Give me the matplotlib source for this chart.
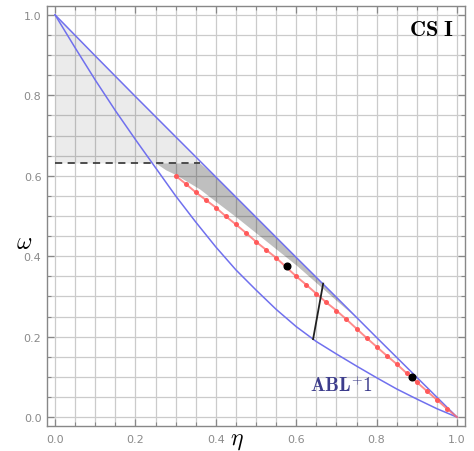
import matplotlib
matplotlib.use("Agg")
import matplotlib.pyplot as plt
import numpy as np

plt.rcParams['mathtext.fontset'] = 'cm'

# upper boundary curve (almost the diagonal)
upper_eta = [0.0, 0.1, 0.2, 0.3, 0.4, 0.5, 0.6, 0.7, 0.8, 0.9, 1.0]
upper_omega = [1.0, 0.898, 0.797, 0.697, 0.597, 0.497, 0.397, 0.298, 0.198, 0.099, 0.0]

# lower boundary curve
lower_eta = [0.0, 0.05, 0.1, 0.15, 0.2, 0.25, 0.3, 0.35, 0.4, 0.45, 0.5,
             0.55, 0.6, 0.65, 0.7, 0.75, 0.8, 0.85, 0.9, 0.95, 1.0]
lower_omega = [1.0, 0.918, 0.838, 0.762, 0.69, 0.62, 0.55, 0.485, 0.423, 0.366, 0.316,
               0.268, 0.225, 0.188, 0.157, 0.127, 0.098, 0.070, 0.045, 0.021, 0.0]

# red dotted series
red_eta = [0.3, 0.325, 0.35, 0.375, 0.4, 0.425, 0.45, 0.475, 0.5, 0.525, 0.55, 0.575,
           0.6, 0.625, 0.65, 0.675, 0.7, 0.725, 0.75, 0.775, 0.8, 0.825, 0.85, 0.875,
           0.9, 0.925, 0.95, 0.975, 1.0]
red_omega = [0.600, 0.580, 0.559, 0.540, 0.521, 0.499, 0.479, 0.458, 0.436, 0.416, 0.396, 0.373,
             0.350, 0.329, 0.307, 0.285, 0.265, 0.243, 0.220, 0.197, 0.175, 0.153, 0.132, 0.109,
             0.087, 0.065, 0.043, 0.021, 0.0]

# black points
pts_eta = [0.577, 0.889]
pts_omega = [0.375, 0.100]

# black segment
seg_eta = [0.642, 0.667]
seg_omega = [0.194, 0.332]

# dashed level
dash_level = 0.632
dash_end = 0.36

# light shaded region (above the dashed level)
light_eta = [0.0, 0.1, 0.2, 0.3, 0.36]
light_top = [1.0, 0.898, 0.797, 0.697, 0.632]

# dark shaded region (below the dashed level)
dark_eta = [0.25, 0.275, 0.3, 0.35, 0.36, 0.4, 0.45, 0.5, 0.55, 0.6, 0.65, 0.7, 0.75]
dark_top = [0.632, 0.632, 0.632, 0.632, 0.632, 0.597, 0.547, 0.497, 0.447, 0.397, 0.347, 0.297, 0.247]
dark_bottom = [0.632, 0.615, 0.603, 0.573, 0.567, 0.536, 0.498, 0.458, 0.418, 0.378, 0.334, 0.29, 0.247]

fig = plt.figure(figsize=(4.74, 4.52), dpi=100)
ax = fig.add_axes([0.0992, 0.0553, 0.8819, 0.9292])

ax.fill_between(light_eta, dash_level, light_top, color='black', alpha=0.08, lw=0)
ax.fill_between(dark_eta, dark_bottom, dark_top, color='black', alpha=0.25, lw=0)

ax.plot([0, dash_end], [dash_level, dash_level], color='#404040', lw=1.3, dashes=(4, 3))

ax.plot(upper_eta, upper_omega, color='#7070ee', lw=1.1)
ax.plot(lower_eta, lower_omega, color='#7070ee', lw=1.1)

ax.plot(red_eta, red_omega, color='#ff7070', lw=1.4, alpha=0.8)
ax.plot(red_eta[:-1], red_omega[:-1], 'o', color='#ff5a5a', ms=3.6, mec='none')

ax.plot(seg_eta, seg_omega, color='#202020', lw=1.3)
ax.plot(pts_eta, pts_omega, 'o', color='black', ms=4.8)

ax.text(0.975, 0.97, r'$\mathbf{CS\ I}$', fontsize=16, ha='right', va='top',
        transform=ax.transAxes)
ax.text(0.635, 0.065, r'$\mathbf{ABL^{+}1}$', fontsize=14, color='#3c3c8c')

ax.set_xlim(-0.02, 1.02)
ax.set_ylim(-0.022, 1.022)

major = np.arange(0, 1.01, 0.2)
minor = np.arange(0, 1.01, 0.05)
ax.set_xticks(major)
ax.set_yticks(major)
ax.set_xticks(minor, minor=True)
ax.set_yticks(minor, minor=True)
ax.set_xticklabels(['%.1f' % v for v in major])
ax.set_yticklabels(['%.1f' % v for v in major])
ax.grid(True, which='both', color='#cbcbcb', lw=0.9)
ax.set_axisbelow(True)
ax.tick_params(which='both', direction='in', top=True, right=True,
               color='#888888', labelsize=8, labelcolor='#8a8a8a')
ax.tick_params(which='major', length=5, width=0.9)
ax.tick_params(which='minor', length=3, width=0.8)
ax.tick_params(axis='x', pad=6)
ax.tick_params(axis='y', pad=4)
for s in ax.spines.values():
    s.set_color('#888888')
    s.set_linewidth(1.0)

# axis names placed as texts, like the reference
ax.text(0.455, -0.03, r'$\eta$', fontsize=17, ha='center', va='center',
        transform=ax.transAxes)
ax.text(-0.055, 0.44, r'$\omega$', fontsize=17, ha='center', va='center',
        transform=ax.transAxes)

fig.savefig('out.png', dpi=100)
